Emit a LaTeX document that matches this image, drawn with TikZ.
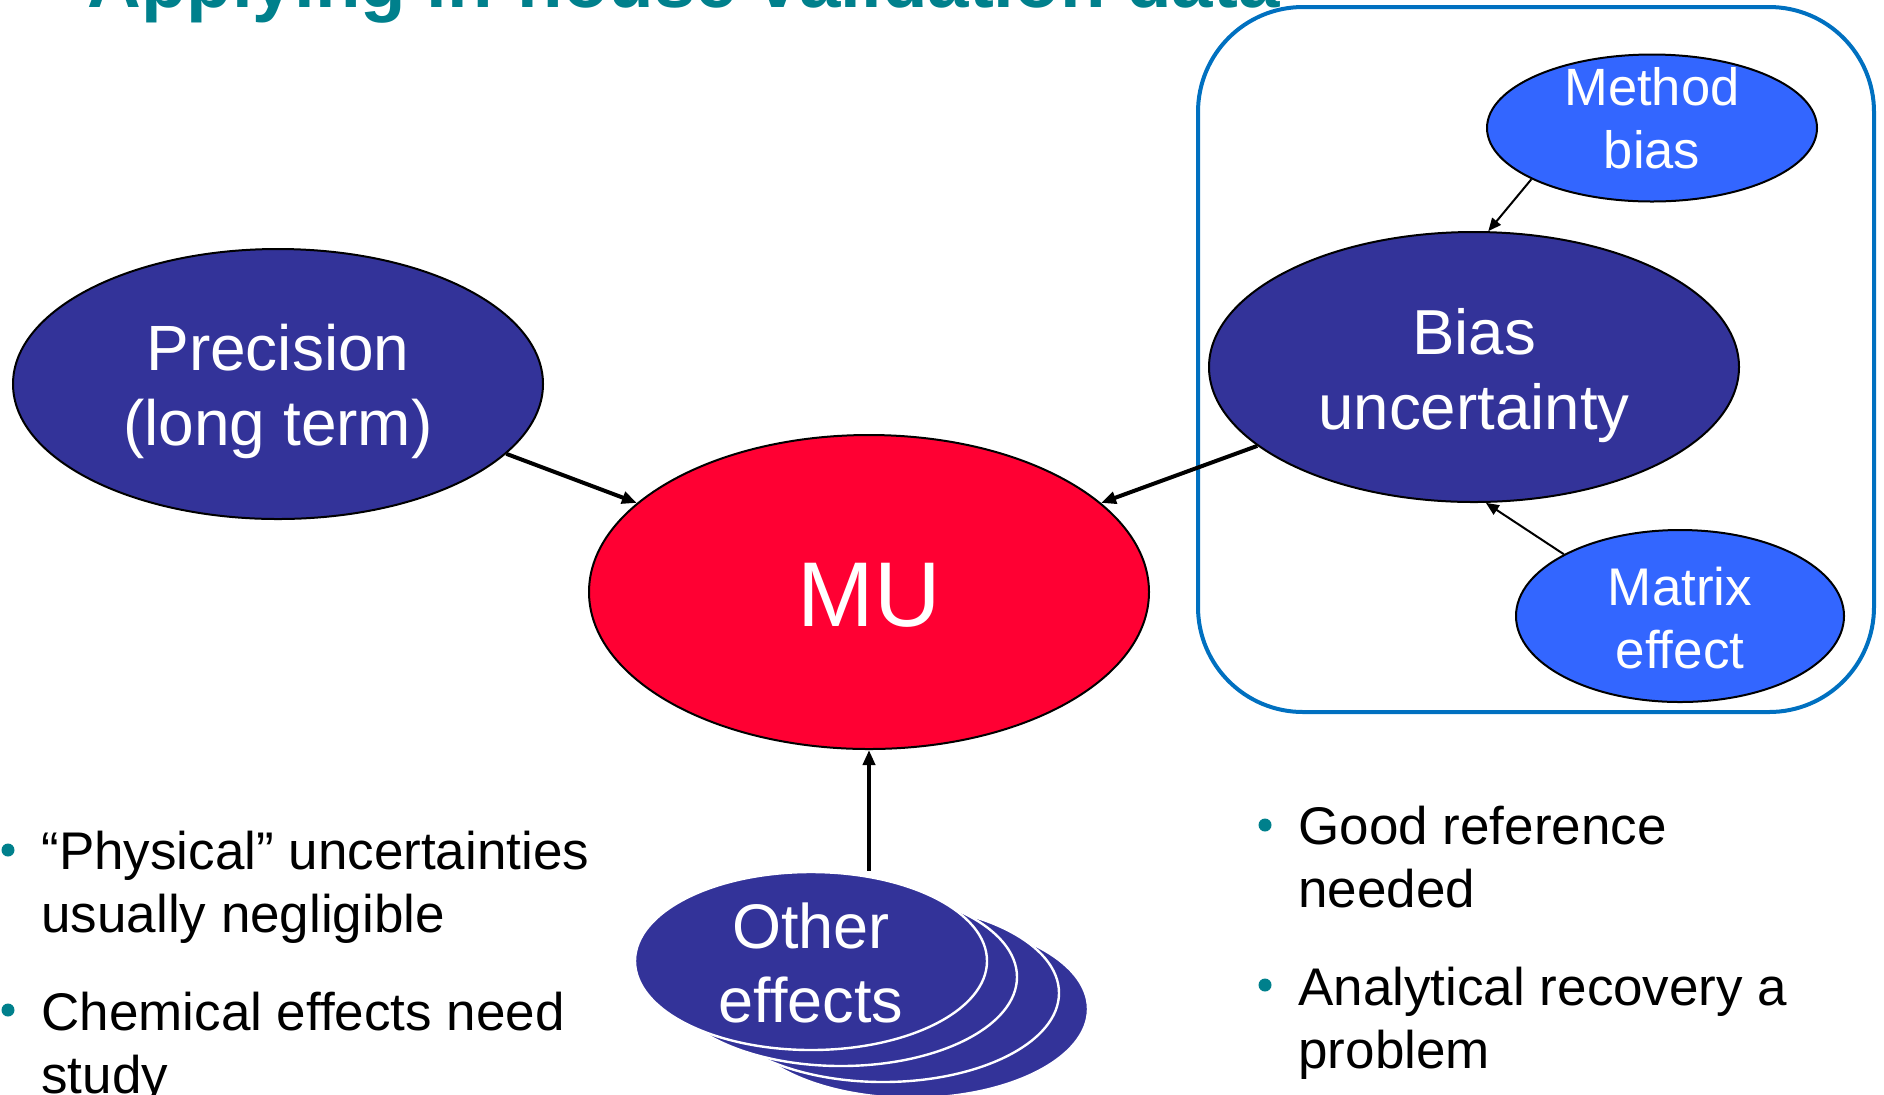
\documentclass[tikz,border=0pt]{standalone}
\usepackage{fontspec}
\setmainfont{Liberation Sans}
\usetikzlibrary{shapes.geometric,arrows.meta}

\definecolor{navy}{RGB}{51,51,153}
\definecolor{skyblue}{RGB}{51,102,255}
\definecolor{mured}{RGB}{255,0,51}
\definecolor{frameblue}{RGB}{0,112,192}
\definecolor{titleteal}{RGB}{0,128,140}

\tikzset{
  oval/.style={ellipse, draw=black, line width=1pt, inner sep=0pt},
  darkoval/.style={oval, fill=navy},
  lightoval/.style={oval, fill=skyblue},
  stackoval/.style={ellipse, fill=navy, draw=white, line width=1.2pt, inner sep=0pt,
                    minimum width=176pt, minimum height=89pt},
  lbl/.style={text=white, align=center, inner sep=0pt},
  bigarrow/.style={-{Triangle[length=7.5pt,width=6pt]}, line width=2pt},
  smallarrow/.style={-{Triangle[length=6.5pt,width=5.5pt]}, line width=1pt},
  dot/.style={circle, fill=titleteal, inner sep=0pt, minimum size=6.5pt},
  btext/.style={anchor=base west, inner sep=0pt, font=\fontsize{26.5}{31.5}\selectfont},
}

\begin{document}
\begin{tikzpicture}[x=0.5pt,y=-0.5pt]
  \useasboundingbox (0,0) rectangle (1884,1094);
  \clip (0,0) rectangle (1884,1094);

  % heading, running off the top edge
  \node[anchor=base west, inner sep=0pt, text=titleteal,
        font=\bfseries\fontsize{37.25}{40}\selectfont] (title) at (87,7)
        {Applying in-house validation data};

  % frame around the bias group
  \node[draw=frameblue, line width=2pt, rounded corners=52.5pt, inner sep=0pt,
        minimum width=338pt, minimum height=352.5pt] (grp) at (1536,359.5) {};

  % main ellipses
  \node[darkoval, minimum width=265pt, minimum height=135pt,
        label={[lbl, font=\fontsize{32}{37.5}\selectfont, yshift=-3.5pt]center:{Precision\\(long term)}}]
        (prec) at (278,384) {};
  \node[oval, fill=mured, minimum width=280pt, minimum height=157pt,
        label={[lbl, font=\fontsize{46}{50}\selectfont, yshift=-1.5pt]center:{MU}}]
        (mu) at (869,592) {};
  \node[darkoval, minimum width=265pt, minimum height=135pt,
        label={[lbl, font=\fontsize{31.8}{37.5}\selectfont, yshift=-4.2pt]center:{Bias\\uncertainty}}]
        (bias) at (1474,367) {};
  \node[lightoval, minimum width=165pt, minimum height=73.5pt,
        label={[lbl, font=\fontsize{26.25}{31.5}\selectfont, yshift=4.65pt]center:{Method\\bias}}]
        (mb) at (1652,128) {};
  \node[lightoval, minimum width=164pt, minimum height=86pt,
        label={[lbl, font=\fontsize{26.5}{31.5}\selectfont, yshift=-1.25pt]center:{Matrix\\effect}}]
        (mx) at (1680,616) {};

  % stacked "other effects" ellipses, back to front
  \foreach \dx/\dy/\n in {101/48/3, 72/32/2, 30/16/1}
    \node[stackoval] (oe\n) at (811+\dx,961+\dy) {};
  \node[stackoval,
        label={[lbl, font=\fontsize{31.5}{37}\selectfont, yshift=-0.75pt]center:{Other\\effects}}]
        (oe) at (811,961) {};

  % connectors
  \draw[bigarrow] (prec.-17.4) -- (mu.159);
  \draw[bigarrow] (bias.200) -- (mu.21.5);
  \draw[bigarrow] (oe.north -| mu.south) -- (mu.south);
  \draw[smallarrow] (mb.203.5) -- (bias.84.5);
  \draw[smallarrow] (mx.152) -- (bias.275.5);

  % left notes
  \node[dot] (dl1) at (8,850) {};
  \node[btext] (l1a) at (41,869) {“Physical” uncertainties};
  \node[btext] (l1b) at (41,932) {usually negligible};
  \node[dot] (dl2) at (8,1010) {};
  \node[btext] (l2a) at (41,1030) {Chemical effects need};
  \node[btext] (l2b) at (41,1093) {study};

  % right notes
  \node[dot] (dr1) at (1265,825) {};
  \node[btext] (r1a) at (1298,844) {Good reference};
  \node[btext] (r1b) at (1298,907) {needed};
  \node[dot] (dr2) at (1265,985) {};
  \node[btext] (r2a) at (1298,1005) {Analytical recovery a};
  \node[btext] (r2b) at (1298,1068) {problem};
\end{tikzpicture}
\end{document}
